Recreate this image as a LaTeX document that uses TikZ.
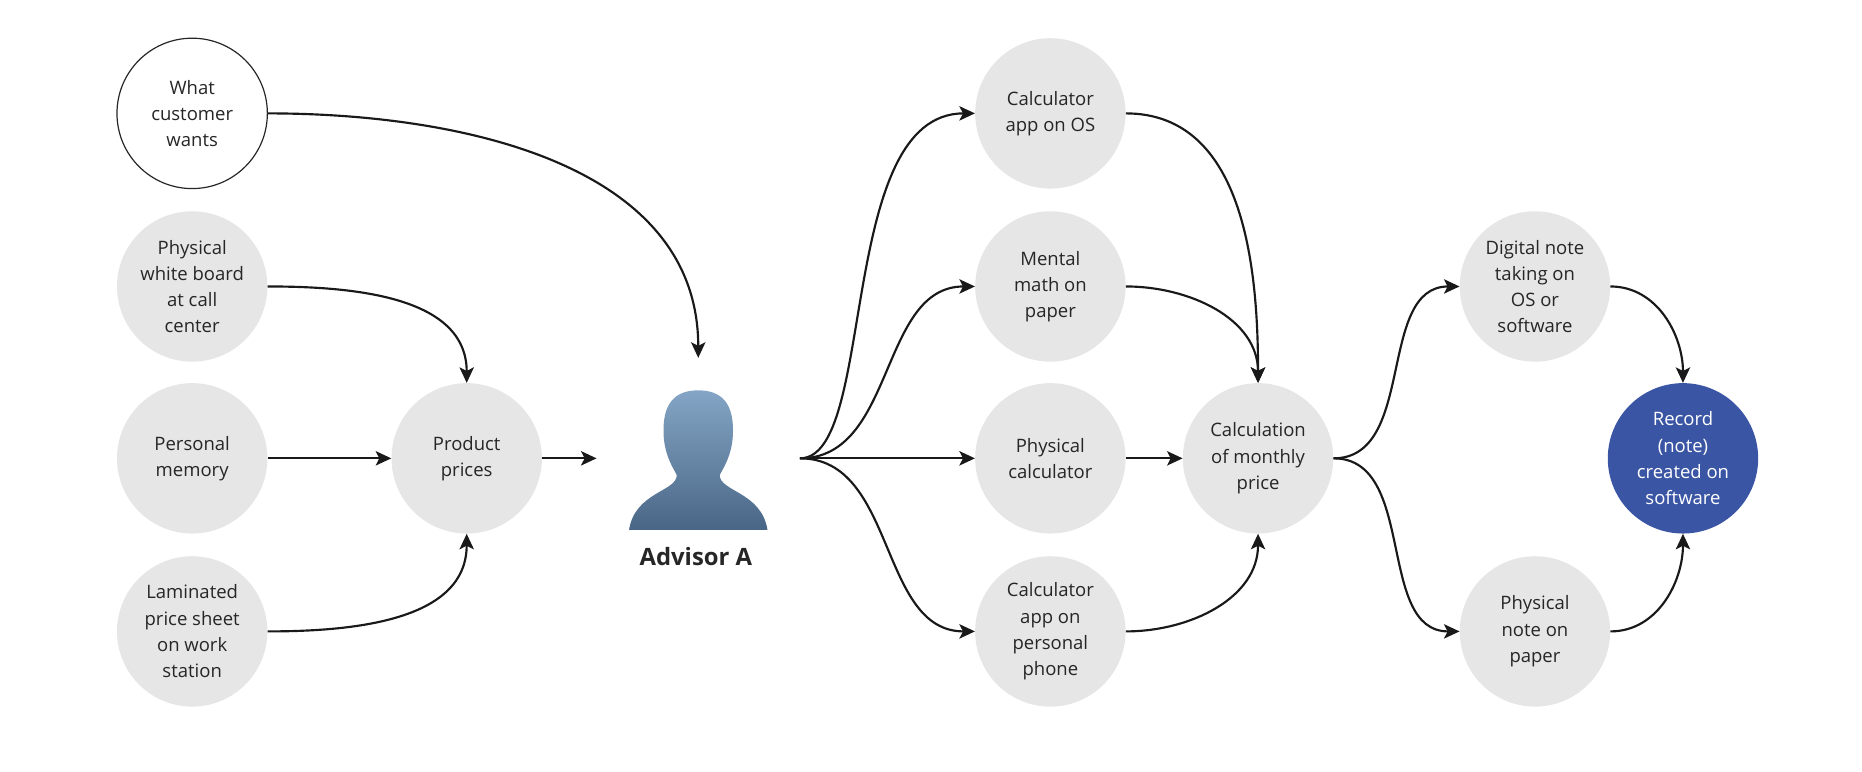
\documentclass[tikz,border=0pt]{standalone}
\usepackage{fontspec}
\setmainfont{Open Sans}
\usetikzlibrary{arrows.meta,positioning}

\definecolor{bubble}{HTML}{E6E6E6}
\definecolor{record}{HTML}{3A55A4}
\definecolor{headtop}{HTML}{84A5C5}
\definecolor{headbot}{HTML}{4A6686}

\tikzset{
  stage/.style={circle,fill=bubble,minimum size=126pt,inner sep=0pt,align=center,
    font=\fontsize{15.5}{22}\selectfont,text=black!85},
  flow/.style={-{Stealth[length=13pt,width=12pt,inset=3pt]},line width=1.8pt,black!90}
}

\begin{document}
\begin{tikzpicture}[x=1pt,y=-1pt]
\useasboundingbox (0,0) rectangle (1560,646.6);

% sources
\node [stage,fill=white,draw=black!85,line width=1pt] (wants) at (161,95) {What\\customer\\wants};
\node [stage] (board) at (161,240) {Physical\\white board\\at call\\center};
\node [stage] (memory) at (161,384) {Personal\\memory};
\node [stage] (sheet) at (161,529) {Laminated\\price sheet\\on work\\station};
\node [stage] (prices) at (391,384) {Product\\prices};

% advisor
\node [minimum width=170pt,minimum height=168pt,inner sep=0pt] (adv) at (585,384) {};
\shade [top color=headtop,bottom color=headbot]
  (585,327) .. controls (560,327) and (555,345) .. (556,365)
  .. controls (557,382) and (564,392) .. (567,398)
  .. controls (567,412) and (532,412) .. (527,444)
  -- (643,444) .. controls (638,412) and (603,412) .. (603,398)
  .. controls (606,392) and (613,382) .. (614,365)
  .. controls (615,345) and (610,327) .. (585,327) -- cycle;
\node [font=\bfseries\fontsize{20}{24}\selectfont,text=black!85] (advname) at (583,466) {Advisor A};

% calculation
\node [stage] (calcos) at (880,95) {Calculator\\app on OS};
\node [stage] (mental) at (880,240) {Mental\\math on\\paper};
\node [stage] (physcalc) at (880,384) {Physical\\calculator};
\node [stage] (phone) at (880,529) {Calculator\\app on\\personal\\phone};
\node [stage] (monthly) at (1054,384) {Calculation\\of monthly\\price};

% notes
\node [stage] (digital) at (1286,240) {Digital note\\taking on\\OS or\\software};
\node [stage] (paper) at (1286,529) {Physical\\note on\\paper};
\node [stage,fill=record,text=white] (rec) at (1410,384) {Record\\(note)\\created on\\software};

\draw [flow] (wants.east) to[out=0,in=90] (adv.north);
\draw [flow] (board.east) to[out=0,in=90] (prices.north);
\draw [flow] (memory) -- (prices);
\draw [flow] (sheet.east) to[out=0,in=-90] (prices.south);
\draw [flow] (prices) -- (adv.west);

\draw [flow] (adv.east) .. controls (735,384) and (700,95) .. (calcos.west);
\draw [flow] (adv.east) to[out=0,in=180] (mental.west);
\draw [flow] (adv.east) -- (physcalc.west);
\draw [flow] (adv.east) to[out=0,in=180] (phone.west);

\draw [flow] (calcos.east) to[out=0,in=90] (monthly.north);
\draw [flow] (mental.east) to[out=0,in=90] (monthly.north);
\draw [flow] (physcalc) -- (monthly);
\draw [flow] (phone.east) to[out=0,in=-90] (monthly.south);

\draw [flow] (monthly.east) to[out=0,in=180] (digital.west);
\draw [flow] (monthly.east) to[out=0,in=180] (paper.west);
\draw [flow] (digital.east) to[out=0,in=90] (rec.north);
\draw [flow] (paper.east) to[out=0,in=-90] (rec.south);
\end{tikzpicture}
\end{document}
